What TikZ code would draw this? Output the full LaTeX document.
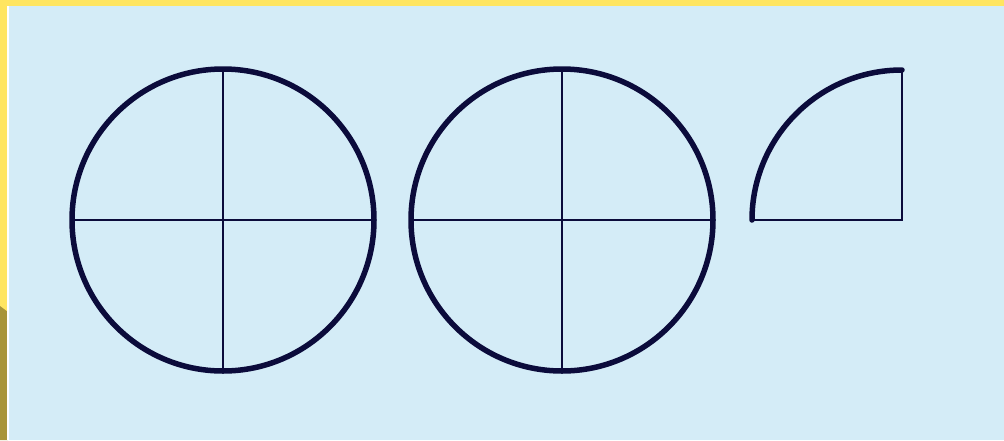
\documentclass[tikz,border=0pt]{standalone}
\definecolor{bgblue}{HTML}{D4ECF7}
\definecolor{frameyellow}{HTML}{FFE560}
\definecolor{frameolive}{HTML}{A89438}
\definecolor{ink}{HTML}{0B0B3B}
\tikzset{
  outline/.style={draw=ink, line width=5.5pt},
  guide/.style={draw=ink, line width=1.5pt},
}
\begin{document}
\begin{tikzpicture}[x=1pt,y=-1pt]
\useasboundingbox (0,0) rectangle (1004,440);
\fill[frameyellow] (0,0) rectangle (1004,440);
\fill[frameolive] (0,306) -- (8,312) -- (8,440) -- (0,440) -- cycle;
\fill[white] (7,6) rectangle (8.5,440);
\fill[bgblue] (8.5,6) rectangle (1004,440);
% circle 1
\coordinate (c1) at (223,220);
\draw[guide] (72,220) -- (374,220);
\draw[guide] (223,70) -- (223,372);
\draw[outline] (c1) circle[radius=151];
% circle 2
\coordinate (c2) at (562,220);
\draw[guide] (411,220) -- (713,220);
\draw[guide] (562,70) -- (562,372);
\draw[outline] (c2) circle[radius=151];
% quarter
\coordinate (q) at (902,220);
\draw[guide] (752,220) -- (q) -- (902,70);
\draw[outline, line cap=round] (752,220) arc[start angle=180, end angle=270, radius=150];
\end{tikzpicture}
\end{document}
